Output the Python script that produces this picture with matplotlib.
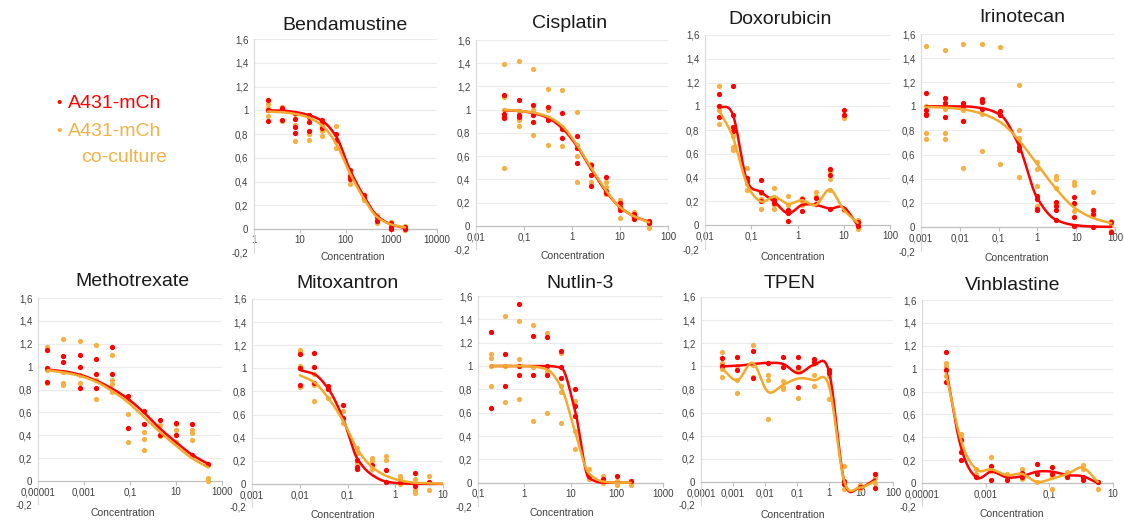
import numpy as np
import matplotlib
matplotlib.use('Agg')
import matplotlib.pyplot as plt
from matplotlib.ticker import NullLocator

W, H = 1124, 520
RED = '#FF0000'
ORANGE_PT = '#F5B145'
ORANGE_LN = '#F2AA2E'
FONT = 'Liberation Sans'

# ---------------- data ----------------
benda_conc = [2, 4, 8, 15.6, 31.3, 62.5, 125, 250, 500, 1000, 2000]
benda_red = [[1.09, 1.0, 0.91], [1.02, 1.0, 0.92], [0.98, 0.93, 0.86, 0.81], [0.96, 0.94, 0.9, 0.83],
             [0.92, 0.9, 0.85], [0.8, 0.75], [0.5, 0.45, 0.42], [0.29, 0.27], [0.1, 0.07],
             [0.05, 0.02, 0.0], [0.02, 0.0]]
benda_org = [[1.05, 1.02, 1.0, 0.95], [1.03, 1.0, 0.91], [0.97, 0.88, 0.74], [0.95, 0.8, 0.75],
             [0.88, 0.83, 0.78], [0.87, 0.73, 0.68], [0.48, 0.45, 0.38], [0.26, 0.25],
             [0.12, 0.08, 0.05], [0.06, 0.03, 0.0], [0.03, 0.0, -0.01]]
benda_red_curve = [1.0, 0.998, 0.985, 0.96, 0.91, 0.78, 0.5, 0.28, 0.11, 0.04, 0.01]
benda_org_curve = [0.99, 0.985, 0.97, 0.94, 0.87, 0.72, 0.47, 0.26, 0.1, 0.04, 0.015]

cispl_conc = [0.039, 0.078, 0.156, 0.3125, 0.625, 1.25, 2.5, 5, 10, 20, 40]
cispl_red = [[1.13, 0.96, 0.94, 0.93], [1.08, 0.95, 0.94], [1.04, 0.95, 0.89], [1.02, 0.93, 0.91],
             [0.97, 0.83, 0.76], [0.77, 0.67, 0.54], [0.52, 0.44, 0.34], [0.42, 0.3, 0.28],
             [0.2, 0.16, 0.14], [0.1, 0.08, 0.06], [0.04, 0.03, 0.02]]
cispl_org = [[1.39, 1.11, 1.0, 0.5], [1.42, 0.99, 0.91, 0.86], [1.35, 1.0, 0.78], [1.18, 1.0, 0.7],
             [1.17, 0.85, 0.69], [0.98, 0.7, 0.6, 0.38], [0.53, 0.5, 0.38], [0.38, 0.33, 0.27],
             [0.22, 0.17, 0.07], [0.12, 0.1, 0.07], [0.03, 0.0, -0.02]]
cispl_red_curve = [0.995, 0.99, 0.97, 0.93, 0.84, 0.69, 0.49, 0.3, 0.16, 0.08, 0.035]
cispl_org_curve = [1.0, 0.99, 0.975, 0.94, 0.86, 0.7, 0.5, 0.31, 0.16, 0.08, 0.03]

doxo_conc = [0.02, 0.04, 0.08, 0.16, 0.3125, 0.625, 1.25, 2.5, 5, 10, 20]
doxo_red = [[1.1, 1.0, 0.91], [1.17, 0.93, 0.83, 0.79], [0.4, 0.37], [0.38, 0.28, 0.2], [0.21, 0.19],
            [0.13, 0.1, 0.035], [0.22, 0.12], [0.23, 0.18], [0.47, 0.42, 0.14], [0.97, 0.93, 0.14],
            [0.03, -0.01]]
doxo_org = [[1.17, 1.0, 0.97, 0.85], [0.75, 0.66, 0.63], [0.48, 0.35, 0.3], [0.27, 0.22, 0.14],
            [0.31, 0.24, 0.17, 0.14], [0.25, 0.17], [0.23, 0.2, 0.17], [0.28, 0.25, 0.18],
            [0.46, 0.39, 0.3], [0.93, 0.9, 0.13], [0.04, 0.01, -0.03]]
doxo_red_curve = [1.0, 0.93, 0.38, 0.28, 0.2, 0.1, 0.17, 0.17, 0.14, 0.15, 0.0]
doxo_org_curve = [0.97, 0.74, 0.35, 0.2, 0.24, 0.18, 0.21, 0.17, 0.3, 0.13, 0.02]

irino_conc = [0.00135, 0.00406, 0.0122, 0.0366, 0.11, 0.329, 0.988, 2.96, 8.89, 26.7, 80]
irino_red = [[1.11, 0.97, 0.94, 0.93], [1.07, 1.03, 0.91], [1.03, 1.0, 0.88], [1.06, 1.04, 0.98],
             [0.96, 0.93], [0.7, 0.66, 0.64], [0.26, 0.23, 0.15, 0.14], [0.21, 0.17, 0.14, 0.06],
             [0.25, 0.2, 0.08, 0.01], [0.14, 0.11, 0.0], [0.04, -0.04]]
irino_org = [[1.5, 1.0, 0.78, 0.73], [1.47, 0.98, 0.78, 0.73], [1.52, 0.97, 0.88, 0.49],
             [1.52, 0.94, 0.63], [1.49, 0.93, 0.52], [1.18, 0.8, 0.74, 0.41],
             [0.54, 0.48, 0.34, 0.17], [0.42, 0.4, 0.32, 0.19], [0.37, 0.35, 0.19, 0.13],
             [0.29, 0.14, 0.1], [0.05, 0.02, -0.03]]
irino_red_curve = [1.0, 1.0, 1.0, 0.985, 0.93, 0.68, 0.24, 0.06, 0.015, 0.003, 0.0]
irino_org_curve = [0.995, 0.99, 0.975, 0.94, 0.87, 0.72, 0.52, 0.32, 0.16, 0.075, 0.03]

metho_conc = [0.0000256, 0.000128, 0.00064, 0.0032, 0.016, 0.08, 0.4, 2, 10, 50, 250]
metho_red = [[1.15, 0.99, 0.87], [1.09, 1.04], [1.1, 0.995, 0.81], [1.065, 0.94, 0.81], [1.17, 0.94],
             [0.745, 0.46], [0.61, 0.5], [0.535, 0.4], [0.51, 0.4], [0.5, 0.23], [0.15]]
metho_org = [[1.17, 0.97, 0.855], [1.24, 0.95, 0.855, 0.84], [1.22, 0.93, 0.855], [1.185, 0.885, 0.715],
             [1.1, 0.885, 0.85, 0.78], [0.71, 0.585, 0.345], [0.43, 0.37, 0.27], [0.49, 0.39],
             [0.5, 0.445, 0.345], [0.445, 0.42, 0.36], [0.14, 0.025, 0.0]]
metho_red_curve = [0.975, 0.96, 0.93, 0.88, 0.81, 0.72, 0.6, 0.46, 0.34, 0.23, 0.15]
metho_org_curve = [0.97, 0.95, 0.92, 0.87, 0.79, 0.69, 0.56, 0.43, 0.31, 0.2, 0.12]

mitox_conc = [0.01, 0.02, 0.04, 0.08, 0.16, 0.32, 0.64, 1.28, 2.56, 5.12, 10.24]
mitox_red = [[1.12, 1.0, 0.86], [1.13, 1.01, 0.87], [0.845, 0.82], [0.68, 0.57], [0.21, 0.15, 0.13],
             [0.16], [0.12, 0.02], [0.015], [0.09, -0.02], [0.02], []]
mitox_org = [[1.16, 1.14, 1.02, 0.84], [0.95, 0.86, 0.72], [0.83, 0.74], [0.63, 0.53],
             [0.31, 0.27, 0.18], [0.22, 0.2, 0.13], [0.24, 0.21], [0.07, 0.04, -0.005],
             [0.04, -0.05, -0.08], [0.065, -0.05], []]
mitox_red_curve = [0.985, 0.95, 0.82, 0.57, 0.22, 0.08, 0.02, 0.005, 0.0, 0.0, 0.0]
mitox_org_curve = [0.94, 0.88, 0.74, 0.55, 0.3, 0.15, 0.07, 0.03, 0.01, 0.005, 0.002]

nutlin_conc = [0.195, 0.39, 0.78, 1.56, 3.125, 6.25, 12.5, 25, 50, 100, 200]
nutlin_red = [[1.29, 0.64], [1.1, 0.83], [1.53, 1.0, 0.925], [1.26, 0.92], [1.25, 1.0, 0.92],
              [1.13, 0.99, 0.9], [0.8, 0.655, 0.57], [0.06], [0.03], [0.06], [0.015]]
nutlin_org = [[1.1, 1.07, 1.0, 0.825], [1.43, 1.0, 0.69], [1.39, 1.06, 0.72], [1.35, 0.99, 0.53],
              [1.28, 0.95, 0.6], [1.11, 0.825, 0.775, 0.51], [0.7, 0.44, 0.285], [0.12, 0.03],
              [0.06, 0.0], [0.015, -0.02], [0.0, -0.02]]
nutlin_red_curve = [1.0, 1.0, 1.0, 1.0, 1.0, 0.985, 0.62, 0.04, 0.0, 0.0, 0.0]
nutlin_org_curve = [1.0, 1.0, 1.0, 0.995, 0.97, 0.82, 0.44, 0.08, 0.01, 0.0, 0.0]

tpen_conc = [0.000457, 0.00137, 0.00412, 0.0123, 0.037, 0.111, 0.333, 1, 3, 9, 27]
tpen_red = [[1.07, 1.0], [1.085, 0.97], [1.135, 0.895], [1.025], [1.085, 0.99], [1.085, 0.99, 0.825],
            [1.06, 1.04], [0.97, 0.94], [0.01, -0.02], [-0.045], [0.065, -0.05]]
tpen_org = [[1.12, 1.03, 0.98, 0.91], [1.0, 0.88, 0.77], [1.185, 1.01, 0.91], [0.925, 0.88, 0.54],
            [0.87, 0.825, 0.8], [0.97, 0.725], [0.925, 0.83], [0.915, 0.715], [0.14, -0.065],
            [-0.025, -0.065], [0.035, -0.01]]
tpen_red_curve = [1.0, 1.005, 1.02, 1.03, 1.02, 0.94, 1.01, 0.955, 0.005, -0.05, 0.02]
tpen_org_curve = [0.98, 0.88, 1.03, 0.78, 0.84, 0.895, 0.88, 0.83, 0.005, -0.05, 0.005]

vinbl_conc = [0.0000565, 0.000169, 0.000508, 0.00152, 0.00457, 0.0137, 0.0412, 0.123, 0.37, 1.11, 3.33]
vinbl_red = [[1.15, 0.99, 0.88], [0.375, 0.27, 0.2], [0.05], [0.15, 0.025], [0.03], [0.09, 0.05],
             [0.17, 0.08], [0.145, 0.08], [0.05], [0.05, 0.03], [0.01]]
vinbl_org = [[1.05, 1.02, 0.94], [0.43, 0.4], [0.12, 0.08], [0.23, 0.11], [0.08, 0.05], [0.125, 0.04],
             [0.01], [0.05, -0.05], [0.1, 0.07], [0.16, 0.125], [0.01, -0.05]]
vinbl_red_curve = [1.0, 0.31, 0.05, 0.1, 0.05, 0.06, 0.1, 0.1, 0.07, 0.06, 0.0]
vinbl_org_curve = [0.96, 0.37, 0.12, 0.12, 0.07, 0.08, 0.01, 0.04, 0.08, 0.135, 0.01]

titles = ['Bendamustine', 'Cisplatin', 'Doxorubicin', 'Irinotecan',
          'Methotrexate', 'Mitoxantron', 'Nutlin-3', 'TPEN', 'Vinblastine']
legend_labels = ['A431-mCh', 'A431-mCh', 'co-culture']
y_ticks = [-0.2, 0, 0.2, 0.4, 0.6, 0.8, 1, 1.2, 1.4, 1.6]
y_tick_labels = ['-0,2', '0', '0,2', '0,4', '0,6', '0,8', '1', '1,2', '1,4', '1,6']


# ---------------- helpers ----------------
def catmull(xs, ys, n=24):
    P = np.column_stack([np.log10(xs), np.asarray(ys, float)])
    P = np.vstack([2 * P[0] - P[1], P, 2 * P[-1] - P[-2]])
    out = []
    t = np.linspace(0, 1, n, endpoint=False)[:, None]
    for i in range(1, len(P) - 2):
        p0, p1, p2, p3 = P[i - 1], P[i], P[i + 1], P[i + 2]
        out.append(0.5 * (2 * p1 + (-p0 + p2) * t + (2 * p0 - 5 * p1 + 4 * p2 - p3) * t ** 2
                          + (-p0 + 3 * p1 - 3 * p2 + p3) * t ** 3))
    out.append(P[-2][None, :])
    a = np.vstack(out)
    return 10 ** a[:, 0], a[:, 1]


def pchip(xs, ys, n=24):
    x = np.log10(xs)
    y = np.asarray(ys, float)
    h = np.diff(x)
    d = np.diff(y) / h
    m = np.zeros_like(y)
    m[0], m[-1] = d[0], d[-1]
    for i in range(1, len(y) - 1):
        if d[i - 1] * d[i] <= 0:
            m[i] = 0
        else:
            w1 = 2 * h[i] + h[i - 1]
            w2 = h[i] + 2 * h[i - 1]
            m[i] = (w1 + w2) / (w1 / d[i - 1] + w2 / d[i])
    xx, yy = [], []
    t = np.linspace(0, 1, n, endpoint=False)
    for i in range(len(h)):
        h00 = 2 * t ** 3 - 3 * t ** 2 + 1
        h10 = t ** 3 - 2 * t ** 2 + t
        h01 = -2 * t ** 3 + 3 * t ** 2
        h11 = t ** 3 - t ** 2
        xx.append(x[i] + t * h[i])
        yy.append(h00 * y[i] + h10 * h[i] * m[i] + h01 * y[i + 1] + h11 * h[i] * m[i + 1])
    xx.append([x[-1]])
    yy.append([y[-1]])
    return 10 ** np.concatenate(xx), np.concatenate(yy)


def fmt(v):
    if v >= 1:
        return str(int(round(v)))
    n = int(round(-np.log10(v)))
    return f'{v:.{n}f}'.replace('.', ',')


fig = plt.figure(figsize=(W / 100, H / 100), dpi=100)
fig.patch.set_facecolor('white')

panels = [
    # data, pixel box (left, right, top, bottom), xlim, ticks, smoothing, title pos, label pos
    (benda_conc, benda_red, benda_org, benda_red_curve, benda_org_curve,
     (254, 437, 39, 253), (1, 10000), [1, 10, 100, 1000, 10000], pchip, (345, 25), (353, 257)),
    (cispl_conc, cispl_red, cispl_org, cispl_red_curve, cispl_org_curve,
     (476, 668, 40, 249), (0.01, 100), [0.01, 0.1, 1, 10, 100], pchip, (570, 23), (573, 256)),
    (doxo_conc, doxo_red, doxo_org, doxo_red_curve, doxo_org_curve,
     (705, 890, 35, 249), (0.01, 100), [0.01, 0.1, 1, 10, 100], catmull, (780, 20), (793, 257)),
    (irino_conc, irino_red, irino_org, irino_red_curve, irino_org_curve,
     (921, 1115, 34, 251), (0.001, 100), [0.001, 0.01, 0.1, 1, 10, 100], pchip, (1022, 17), (1017, 258)),
    (metho_conc, metho_red, metho_org, metho_red_curve, metho_org_curve,
     (38, 222, 298, 504), (0.00001, 1000), [0.00001, 0.001, 0.1, 10, 1000], pchip, (132, 282), (123, 513)),
    (mitox_conc, mitox_red, mitox_org, mitox_red_curve, mitox_org_curve,
     (252, 443, 299, 507), (0.001, 10), [0.001, 0.01, 0.1, 1, 10], pchip, (348, 283), (343, 515)),
    (nutlin_conc, nutlin_red, nutlin_org, nutlin_red_curve, nutlin_org_curve,
     (478, 663, 296, 506), (0.1, 1000), [0.1, 1, 10, 100, 1000], pchip, (580, 283), (562, 513)),
    (tpen_conc, tpen_red, tpen_org, tpen_red_curve, tpen_org_curve,
     (701, 893, 297, 505), (0.0001, 100), [0.0001, 0.001, 0.01, 0.1, 1, 10, 100], catmull, (790, 283), (793, 515)),
    (vinbl_conc, vinbl_red, vinbl_org, vinbl_red_curve, vinbl_org_curve,
     (922, 1113, 300, 506), (0.00001, 10), [0.00001, 0.001, 0.1, 10], catmull, (1013, 285), (1012, 514)),
]

for title, (conc, rpts, opts, rcur, ocur, box, xlim, ticks, smooth, tpos, lpos) in zip(titles, panels):
    l, r, t, b = box
    ax = fig.add_axes([l / W, 1 - b / H, (r - l) / W, (b - t) / H])
    ax.set_facecolor('none')
    ax.set_xscale('log')
    ax.set_xlim(*xlim)
    ax.set_ylim(-0.2, 1.6)
    for gy in y_ticks[2:]:
        ax.axhline(gy, color='#EBEBEB', lw=0.8, zorder=0)
    ax.spines['top'].set_visible(False)
    ax.spines['right'].set_visible(False)
    ax.spines['left'].set_color('#D9D9D9')
    ax.spines['left'].set_linewidth(0.8)
    ax.spines['bottom'].set_position(('data', 0))
    ax.spines['bottom'].set_color('#BFBFBF')
    ax.spines['bottom'].set_linewidth(0.9)
    ax.set_yticks(y_ticks)
    ax.set_yticklabels(y_tick_labels, fontfamily=FONT)
    ax.set_xticks(ticks)
    ax.set_xticklabels([fmt(v) for v in ticks], fontfamily=FONT)
    ax.xaxis.set_minor_locator(NullLocator())
    ax.tick_params(axis='x', length=3, width=0.8, color='#BFBFBF', labelsize=7, pad=1.5,
                   labelcolor='#404040')
    ax.tick_params(axis='y', length=0, labelsize=7, pad=4, labelcolor='#404040')

    for c, ys in zip(conc, opts):
        ax.plot([c] * len(ys), ys, 'o', color=ORANGE_PT, ms=3.8, mec='none', zorder=3, clip_on=False)
    for c, ys in zip(conc, rpts):
        ax.plot([c] * len(ys), ys, 'o', color=RED, ms=3.8, mec='none', zorder=3, clip_on=False)
    xs, ys = smooth(conc, rcur)
    ax.plot(xs, ys, color=RED, lw=1.8, zorder=4, solid_capstyle='round')
    xs, ys = smooth(conc, ocur)
    ax.plot(xs, ys, color=ORANGE_LN, lw=1.8, zorder=5, solid_capstyle='round')

    fig.text(tpos[0] / W, 1 - tpos[1] / H, title, ha='center', va='center',
             fontsize=14, fontfamily=FONT, color='#1A1A1A')
    fig.text(lpos[0] / W, 1 - lpos[1] / H, 'Concentration', ha='center', va='center',
             fontsize=7.5, fontfamily=FONT, color='#404040')

# legend
fig.text(59 / W, 1 - 103 / H, '•', ha='center', va='center', fontsize=11, color=RED, fontfamily=FONT)
fig.text(68 / W, 1 - 103 / H, legend_labels[0], ha='left', va='center', fontsize=14,
         color=RED, fontfamily=FONT)
fig.text(59 / W, 1 - 131 / H, '•', ha='center', va='center', fontsize=11, color=ORANGE_PT, fontfamily=FONT)
fig.text(68 / W, 1 - 131 / H, legend_labels[1], ha='left', va='center', fontsize=14,
         color=ORANGE_PT, fontfamily=FONT)
fig.text(81 / W, 1 - 157 / H, legend_labels[2], ha='left', va='center', fontsize=14,
         color=ORANGE_PT, fontfamily=FONT)

fig.savefig('out.png', dpi=100, facecolor='white')
